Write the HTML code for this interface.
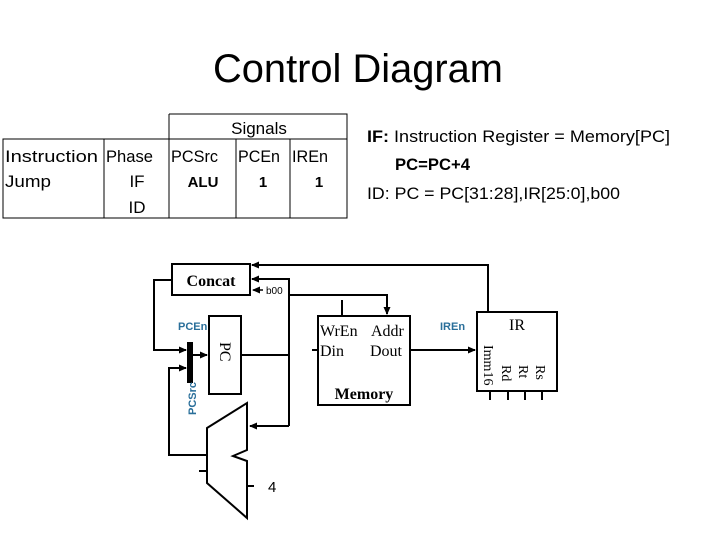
<!DOCTYPE html>
<html><head><meta charset="utf-8"><style>
html,body{margin:0;padding:0;background:#fff;width:720px;height:540px;overflow:hidden}
svg{display:block}
.c{font-family:"Liberation Sans",sans-serif}
.s{font-family:"Liberation Serif",serif}
</style></head><body>
<svg width="720" height="540" viewBox="0 0 720 540" xmlns="http://www.w3.org/2000/svg">
<defs><marker id="a" markerWidth="8" markerHeight="8" refX="7" refY="4" orient="auto" markerUnits="userSpaceOnUse"><path d="M0,0.5 L8,4 L0,7.5z" fill="#000"/></marker></defs>
<text x="358" y="82" class="c" font-size="40" text-anchor="middle" textLength="290" lengthAdjust="spacingAndGlyphs">Control Diagram</text>
<!-- table -->
<g stroke="#000" stroke-width="1" fill="none">
<path d="M169,114H347V218H3V139H347M169,114V218M104,139V218M236,139V218M290,139V218"/>
</g>
<g class="c" font-size="17">
<text x="259" y="134" text-anchor="middle">Signals</text>
<text x="5" y="162" textLength="93" lengthAdjust="spacingAndGlyphs">Instruction</text>
<text x="106" y="162" textLength="47" lengthAdjust="spacingAndGlyphs">Phase</text>
<text x="171" y="162" textLength="47" lengthAdjust="spacingAndGlyphs">PCSrc</text>
<text x="238" y="162" textLength="42" lengthAdjust="spacingAndGlyphs">PCEn</text>
<text x="292" y="162" textLength="36" lengthAdjust="spacingAndGlyphs">IREn</text>
<text x="5" y="187" textLength="46" lengthAdjust="spacingAndGlyphs">Jump</text>
<text x="137" y="187" text-anchor="middle">IF</text>
<text x="203" y="187" text-anchor="middle" font-weight="bold" font-size="15">ALU</text>
<text x="263" y="187" text-anchor="middle" font-weight="bold" font-size="15">1</text>
<text x="319" y="187" text-anchor="middle" font-weight="bold" font-size="15">1</text>
<text x="137" y="213" text-anchor="middle">ID</text>
</g>
<g class="c" font-size="17">
<text x="367" y="142" textLength="303" lengthAdjust="spacingAndGlyphs"><tspan font-weight="bold">IF:</tspan> Instruction Register = Memory[PC]</text>
<text x="395" y="170" font-weight="bold" textLength="75" lengthAdjust="spacingAndGlyphs">PC=PC+4</text>
<text x="367" y="199" textLength="253" lengthAdjust="spacingAndGlyphs">ID: PC = PC[31:28],IR[25:0],b00</text>
</g>
<!-- diagram -->
<g stroke="#000" stroke-width="2" fill="none">
<rect x="172" y="264" width="78" height="31"/>
<rect x="209" y="316" width="32" height="78"/>
<rect x="318" y="316" width="92" height="89"/>
<rect x="477" y="312" width="80" height="79"/>
<path d="M207,428L247,403V450L233,456L247,461V518L207,483Z"/>
<path d="M488,311V265H252" marker-end="url(#a)"/>
<path d="M289,426V279H252" marker-end="url(#a)"/>
<path d="M241,355H289"/>
<path d="M289,295H387V314" marker-end="url(#a)"/>
<path d="M172,280H154V350H186" marker-end="url(#a)"/>
<path d="M207,455H169V368H186" marker-end="url(#a)"/>
<path d="M193,355H207" marker-end="url(#a)"/>
<path d="M289,426H250" marker-end="url(#a)"/>
<path d="M410,350H475" marker-end="url(#a)"/>
<path d="M342,300V316M312,350H318M199,471H207M247,486H254"/>
<path d="M490,391V400M508,391V400M525,391V400M542,391V400"/>
</g>
<path d="M263,290H253" stroke="#000" stroke-width="1.5" marker-end="url(#a)"/>
<rect x="187" y="342" width="6" height="41" fill="#000"/>
<g class="s" font-size="16">
<text x="211" y="286" text-anchor="middle" font-weight="bold">Concat</text>
<text x="320" y="336">WrEn</text><text x="371" y="336">Addr</text>
<text x="320" y="356">Din</text><text x="370" y="356">Dout</text>
<text x="364" y="399" text-anchor="middle" font-weight="bold">Memory</text>
<text x="517" y="330" text-anchor="middle">IR</text>
<text x="268" y="492" class="c" font-size="15">4</text>
<text transform="translate(220,342) rotate(90)">PC</text>
<text transform="translate(484,345) rotate(90)" font-size="14">Imm16</text>
<text transform="translate(502,365) rotate(90)" font-size="14">Rd</text>
<text transform="translate(519,365) rotate(90)" font-size="14">Rt</text>
<text transform="translate(536,365) rotate(90)" font-size="14">Rs</text>
</g>
<text x="266" y="294" class="c" font-size="10">b00</text>
<g class="c" font-size="11" font-weight="bold" fill="#2a6f9a">
<text x="178" y="330">PCEn</text>
<text x="440" y="330">IREn</text>
<text transform="translate(196,415) rotate(-90)">PCSrc</text>
</g>
</svg>
</body></html>
